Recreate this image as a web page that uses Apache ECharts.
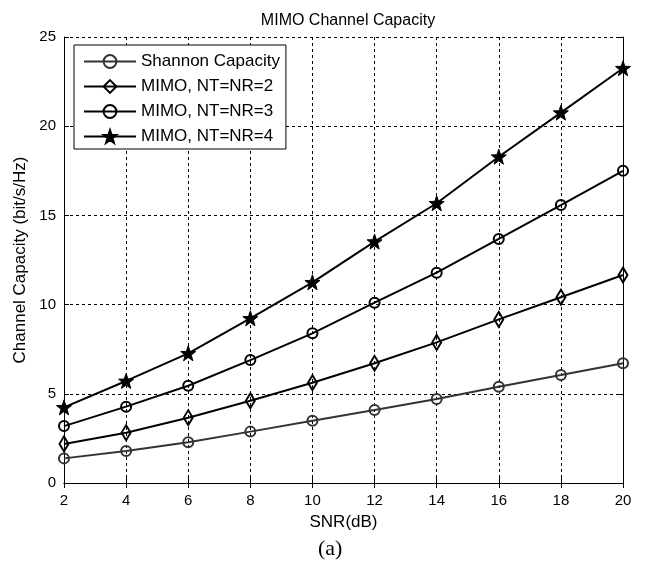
<!DOCTYPE html>
<html><head><meta charset="utf-8">
<script src="https://cdn.jsdelivr.net/npm/echarts@6/dist/echarts.min.js"></script>
<style>html,body{margin:0;padding:0;background:#fff;}#c{width:651px;height:562px;}</style>
</head><body><div id="c"></div>
<script>
const snr = [2, 4, 6, 8, 10, 12, 14, 16, 18, 20];
const shannon = [1.38, 1.79, 2.28, 2.88, 3.49, 4.09, 4.71, 5.40, 6.05, 6.71];
const mimo2 = [2.19, 2.82, 3.66, 4.61, 5.62, 6.71, 7.88, 9.17, 10.41, 11.66];
const mimo3 = [3.19, 4.28, 5.45, 6.89, 8.39, 10.11, 11.79, 13.68, 15.58, 17.50];
const mimo4 = [4.24, 5.72, 7.27, 9.23, 11.25, 13.53, 15.68, 18.29, 20.76, 23.25];
const names = ['Shannon Capacity', 'MIMO, NT=NR=2', 'MIMO, NT=NR=3', 'MIMO, NT=NR=4'];
const yTicks = [0, 5, 10, 15, 20, 25];

const star = 'path://M0,-10 L2.35,-3.24 L9.51,-3.09 L3.80,1.24 L5.88,8.09 L0,4 L-5.88,8.09 L-3.80,1.24 L-9.51,-3.09 L-2.35,-3.24 Z';
const font = 'Liberation Sans, Arial, sans-serif';
const clear = 'rgba(0,0,0,0)';

function pairs(arr) { return snr.map((x, i) => [x, arr[i]]); }

const chart = echarts.init(document.getElementById('c'), null, {renderer: 'canvas'});
const axisCommon = {
  axisLine: {show: true, lineStyle: {color: '#000', width: 1}},
  axisTick: {show: true, inside: true, length: 5, lineStyle: {color: '#000'}},
};
chart.setOption({
  backgroundColor: '#fff',
  animation: false,
  title: {
    text: 'MIMO Channel Capacity', left: 343, top: 8, textAlign: 'center',
    textStyle: {fontFamily: font, fontSize: 16, fontWeight: 'normal', color: '#000'}
  },
  grid: {left: 64, right: 28, top: 37, bottom: 79},
  legend: {
    orient: 'vertical', left: 74, top: 45,
    data: names,
    backgroundColor: '#fff', borderColor: '#000', borderWidth: 1,
    padding: [8, 6, 4, 9], itemGap: 8, itemWidth: 52, itemHeight: 16,
    textStyle: {fontFamily: font, fontSize: 17, color: '#000'}
  },
  xAxis: [
    Object.assign({
      type: 'value', min: 2, max: 20, interval: 2, position: 'bottom',
      name: 'SNR(dB)', nameLocation: 'middle', nameGap: 31,
      nameTextStyle: {fontFamily: font, fontSize: 17, color: '#000'},
      axisLabel: {fontFamily: font, fontSize: 15, color: '#000', margin: 10},
      splitLine: {show: true, lineStyle: {color: '#000', type: [3, 3], width: 1}}
    }, axisCommon),
    Object.assign({
      type: 'value', min: 2, max: 20, interval: 2, position: 'top',
      axisLabel: {show: false}, splitLine: {show: false}
    }, axisCommon)
  ],
  yAxis: [
    Object.assign({
      type: 'value', min: yTicks[0], max: yTicks[yTicks.length - 1], interval: 5, position: 'left',
      name: 'Channel Capacity (bit/s/Hz)', nameLocation: 'middle', nameGap: 34,
      nameTextStyle: {fontFamily: font, fontSize: 17, color: '#000'},
      axisLabel: {fontFamily: font, fontSize: 15, color: '#000', margin: 8},
      splitLine: {show: true, lineStyle: {color: '#000', type: [3, 3], width: 1}}
    }, axisCommon),
    Object.assign({
      type: 'value', min: yTicks[0], max: yTicks[yTicks.length - 1], interval: 5, position: 'right',
      axisLabel: {show: false}, splitLine: {show: false}
    }, axisCommon)
  ],
  series: [
    {name: names[0], type: 'line', data: pairs(shannon), symbol: 'circle', symbolSize: 10,
     lineStyle: {color: '#333', width: 2}, itemStyle: {color: clear, borderColor: '#333', borderWidth: 2}, z: 2},
    {name: names[1], type: 'line', data: pairs(mimo2), symbol: 'diamond', symbolSize: [9, 15],
     lineStyle: {color: '#000', width: 2}, itemStyle: {color: clear, borderColor: '#000', borderWidth: 2}, z: 3},
    {name: names[2], type: 'line', data: pairs(mimo3), symbol: 'circle', symbolSize: 10,
     lineStyle: {color: '#000', width: 2}, itemStyle: {color: clear, borderColor: '#000', borderWidth: 2}, z: 4},
    {name: names[3], type: 'line', data: pairs(mimo4), symbol: star, symbolSize: 15,
     lineStyle: {color: '#000', width: 2}, itemStyle: {color: '#000', borderColor: '#000', borderWidth: 1}, z: 5}
  ],
  graphic: [{
    type: 'text', left: 318, top: 538,
    style: {text: '(a)', font: '22px "Liberation Serif", "Times New Roman", serif', fill: '#000'}
  }]
});
</script></body></html>
